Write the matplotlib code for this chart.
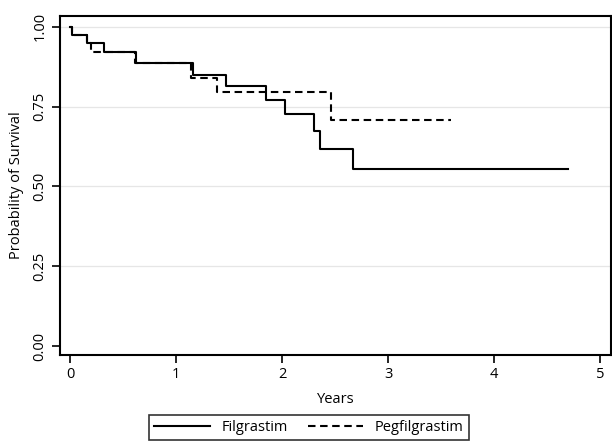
import numpy as np
import matplotlib
matplotlib.use('Agg')
import matplotlib.pyplot as plt

# Kaplan-Meier step data (years, survival probability)
filg_years = [0.0, 0.02, 0.16, 0.32, 0.62, 1.16, 1.47, 1.85, 2.03, 2.30, 2.36, 2.67, 4.70]
filg_surv = [1.0, 0.975, 0.950, 0.920, 0.887, 0.850, 0.813, 0.771, 0.727, 0.672, 0.617, 0.555, 0.555]

peg_years = [0.0, 0.02, 0.16, 0.20, 0.61, 1.14, 1.39, 2.46, 3.59]
peg_surv = [1.0, 0.975, 0.950, 0.920, 0.887, 0.841, 0.797, 0.708, 0.708]

x_ticks = [0, 1, 2, 3, 4, 5]
y_ticks = [0.00, 0.25, 0.50, 0.75, 1.00]
y_ticklabels = ['0.00', '0.25', '0.50', '0.75', '1.00']

plt.rcParams['font.family'] = ['Open Sans', 'DejaVu Sans']

fig = plt.figure(figsize=(6.12, 4.42), dpi=100)
ax = fig.add_axes([0.098, 0.197, 0.900, 0.767])

for y in y_ticks[1:]:
    ax.axhline(y, color='#e6e6e6', lw=0.9, zorder=0)

ax.step(filg_years, filg_surv, where='post', color='black', lw=1.5, label='Filgrastim')
ax.step(peg_years, peg_surv, where='post', color='black', lw=1.5, ls=(0, (3.6, 2.2)), label='Pegfilgrastim')

ax.set_xlim(-0.094, 5.10)
ax.set_ylim(-0.028, 1.034)
ax.set_xticks(x_ticks)
ax.set_yticks(y_ticks)
ax.set_yticklabels(y_ticklabels, rotation=90, va='center')
ax.tick_params(direction='out', length=6, width=1.2, labelsize=10.5, pad=3)
for s in ax.spines.values():
    s.set_linewidth(1.5)

ax.set_xlabel('Years', fontsize=10.5, labelpad=7)
ax.set_ylabel('Probability of Survival', fontsize=10.5, labelpad=6)

leg = fig.legend(loc='lower center', bbox_to_anchor=(0.505, -0.012), ncol=2,
                 fontsize=10.5, frameon=True, fancybox=False, handlelength=3.8,
                 columnspacing=1.4, borderpad=0.35)
leg.get_frame().set_edgecolor('black')
leg.get_frame().set_linewidth(1.2)

fig.savefig('out.png', dpi=100)
